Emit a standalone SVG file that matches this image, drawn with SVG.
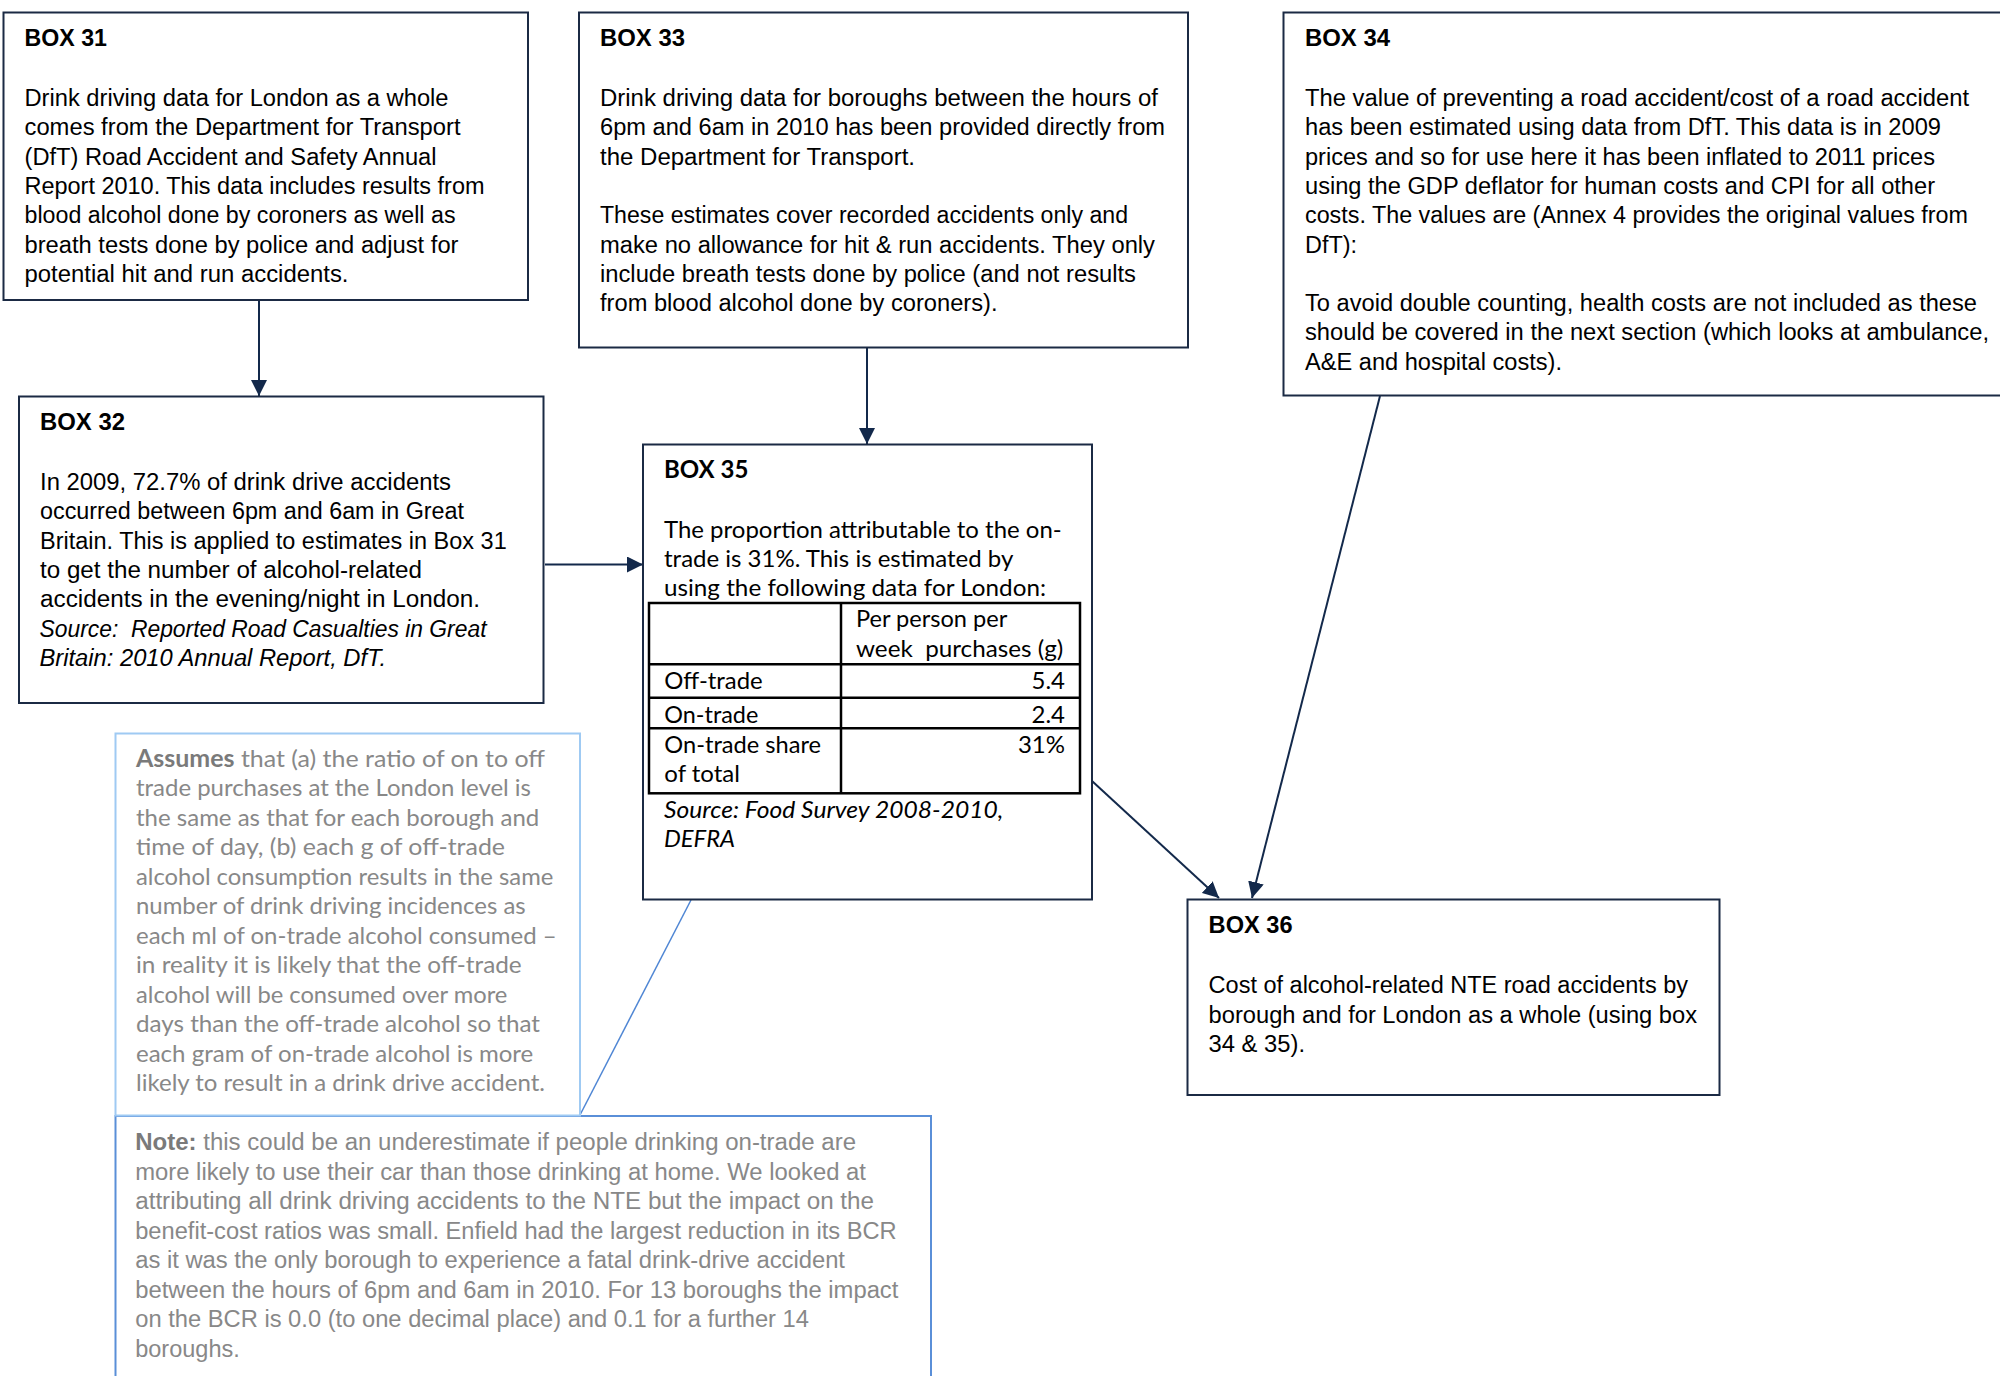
<svg xmlns="http://www.w3.org/2000/svg" width="2000" height="1376" viewBox="0 0 2000 1376">
  <defs>
    <marker id="arrow" markerUnits="userSpaceOnUse" markerWidth="16" markerHeight="16" viewBox="0 0 16 16" refX="16" refY="8" orient="auto">
      <path d="M0,0 L16,8 L0,16 Z" fill="#13294b"/>
    </marker>
    <style>
      .box { fill: #ffffff; stroke: #1b2a44; stroke-width: 2; }
      .assume { fill: #ffffff; stroke: #9fcaf3; stroke-width: 2; }
      .note { fill: #ffffff; stroke: #5a8fd8; stroke-width: 2; }
      .cell { fill: none; stroke: #000000; stroke-width: 2.5; }
      .link { stroke: #13294b; stroke-width: 2; fill: none; }
      .callout { stroke: #4f86d4; stroke-width: 1.5; fill: none; }
      .t { font-family: "Liberation Sans", Arial, sans-serif; font-size: 23px; fill: #000000; }
      .u { font-family: Lato, "Liberation Sans", Arial, sans-serif; font-size: 24px; fill: #000000; }
      .h { font-weight: bold; }
      .i { font-style: italic; }
      .g { fill: #888888; }
      .gb { font-weight: bold; fill: #7a7a7a; }
    </style>
  </defs>

  <rect width="2000" height="1376" fill="#ffffff"/>

  <!-- connectors -->
  <g id="connectors">
    <line class="link" x1="259" y1="300" x2="259" y2="396" marker-end="url(#arrow)"/>
    <line class="link" x1="867" y1="348" x2="867" y2="444" marker-end="url(#arrow)"/>
    <line class="link" x1="545" y1="564.5" x2="643" y2="564.5" marker-end="url(#arrow)"/>
    <line class="link" x1="1092" y1="781" x2="1219" y2="898" marker-end="url(#arrow)"/>
    <line class="link" x1="1380" y1="396" x2="1252" y2="898" marker-end="url(#arrow)"/>
    <line class="callout" x1="691" y1="900" x2="580" y2="1115"/>
  </g>

  <!-- Box 31 -->
  <g id="box31">
    <rect class="box" x="3.5" y="12.5" width="524.5" height="287.5"/>
    <text class="t h" x="24.5" y="45.7" textLength="82.5" lengthAdjust="spacingAndGlyphs">BOX 31</text>
    <text class="t" x="24.5" y="106" textLength="424" lengthAdjust="spacingAndGlyphs">Drink driving data for London as a whole</text>
    <text class="t" x="24.5" y="135.3" textLength="436" lengthAdjust="spacingAndGlyphs">comes from the Department for Transport</text>
    <text class="t" x="24.5" y="164.6" textLength="412" lengthAdjust="spacingAndGlyphs">(DfT) Road Accident and Safety Annual</text>
    <text class="t" x="24.5" y="193.9" textLength="460" lengthAdjust="spacingAndGlyphs">Report 2010. This data includes results from</text>
    <text class="t" x="24.5" y="223.2" textLength="431" lengthAdjust="spacingAndGlyphs">blood alcohol done by coroners as well as</text>
    <text class="t" x="24.5" y="252.5" textLength="434" lengthAdjust="spacingAndGlyphs">breath tests done by police and adjust for</text>
    <text class="t" x="24.5" y="281.8" textLength="324" lengthAdjust="spacingAndGlyphs">potential hit and run accidents.</text>
  </g>

  <!-- Box 33 -->
  <g id="box33">
    <rect class="box" x="579" y="12.5" width="609" height="335"/>
    <text class="t h" x="600" y="45.7" textLength="85" lengthAdjust="spacingAndGlyphs">BOX 33</text>
    <text class="t" x="600" y="106" textLength="558" lengthAdjust="spacingAndGlyphs">Drink driving data for boroughs between the hours of</text>
    <text class="t" x="600" y="135.3" textLength="565" lengthAdjust="spacingAndGlyphs">6pm and 6am in 2010 has been provided directly from</text>
    <text class="t" x="600" y="164.6" textLength="315" lengthAdjust="spacingAndGlyphs">the Department for Transport.</text>
    <text class="t" x="600" y="223.2" textLength="528" lengthAdjust="spacingAndGlyphs">These estimates cover recorded accidents only and</text>
    <text class="t" x="600" y="252.5" textLength="555" lengthAdjust="spacingAndGlyphs">make no allowance for hit &amp; run accidents. They only</text>
    <text class="t" x="600" y="281.8" textLength="536" lengthAdjust="spacingAndGlyphs">include breath tests done by police (and not results</text>
    <text class="t" x="600" y="311.1" textLength="397.5" lengthAdjust="spacingAndGlyphs">from blood alcohol done by coroners).</text>
  </g>

  <!-- Box 34 (runs past the right edge) -->
  <g id="box34">
    <rect class="box" x="1283.5" y="12.5" width="740" height="383"/>
    <text class="t h" x="1305" y="45.7" textLength="85" lengthAdjust="spacingAndGlyphs">BOX 34</text>
    <text class="t" x="1305" y="106" textLength="664" lengthAdjust="spacingAndGlyphs">The value of preventing a road accident/cost of a road accident</text>
    <text class="t" x="1305" y="135.3" textLength="636" lengthAdjust="spacingAndGlyphs">has been estimated using data from DfT. This data is in 2009</text>
    <text class="t" x="1305" y="164.6" textLength="630" lengthAdjust="spacingAndGlyphs">prices and so for use here it has been inflated to 2011 prices</text>
    <text class="t" x="1305" y="193.9" textLength="630" lengthAdjust="spacingAndGlyphs">using the GDP deflator for human costs and CPI for all other</text>
    <text class="t" x="1305" y="223.2" textLength="663" lengthAdjust="spacingAndGlyphs">costs. The values are (Annex 4 provides the original values from</text>
    <text class="t" x="1305" y="252.5" textLength="52" lengthAdjust="spacingAndGlyphs">DfT):</text>
    <text class="t" x="1305" y="311.1" textLength="672" lengthAdjust="spacingAndGlyphs">To avoid double counting, health costs are not included as these</text>
    <text class="t" x="1305" y="340.4" textLength="684" lengthAdjust="spacingAndGlyphs">should be covered in the next section (which looks at ambulance,</text>
    <text class="t" x="1305" y="369.7" textLength="257" lengthAdjust="spacingAndGlyphs">A&amp;E and hospital costs).</text>
  </g>

  <!-- Box 32 -->
  <g id="box32">
    <rect class="box" x="19" y="396.5" width="524.5" height="306.5"/>
    <text class="t h" x="40" y="430" textLength="85" lengthAdjust="spacingAndGlyphs">BOX 32</text>
    <text class="t" x="40" y="490" textLength="411" lengthAdjust="spacingAndGlyphs">In 2009, 72.7% of drink drive accidents</text>
    <text class="t" x="40" y="519.3" textLength="424" lengthAdjust="spacingAndGlyphs">occurred between 6pm and 6am in Great</text>
    <text class="t" x="40" y="548.6" textLength="466.7" lengthAdjust="spacingAndGlyphs">Britain. This is applied to estimates in Box 31</text>
    <text class="t" x="40" y="577.9" textLength="382" lengthAdjust="spacingAndGlyphs">to get the number of alcohol-related</text>
    <text class="t" x="40" y="607.2" textLength="440" lengthAdjust="spacingAndGlyphs">accidents in the evening/night in London.</text>
    <text class="t i" x="39.5" y="636.5" textLength="447" lengthAdjust="spacingAndGlyphs" xml:space="preserve">Source:  Reported Road Casualties in Great</text>
    <text class="t i" x="39.5" y="665.8" textLength="346.5" lengthAdjust="spacingAndGlyphs">Britain: 2010 Annual Report, DfT.</text>
  </g>

  <!-- Box 35 with its data table -->
  <g id="box35">
    <rect class="box" x="643" y="444.5" width="449" height="455"/>
    <text class="u h" x="664" y="477.7" textLength="84.3" lengthAdjust="spacingAndGlyphs">BOX 35</text>
    <text class="u" x="664" y="538.3" textLength="397.7" lengthAdjust="spacingAndGlyphs">The proportion attributable to the on-</text>
    <text class="u" x="664" y="566.7" textLength="349.3" lengthAdjust="spacingAndGlyphs">trade is 31%. This is estimated by</text>
    <text class="u" x="664" y="596" textLength="382" lengthAdjust="spacingAndGlyphs">using the following data for London:</text>
    <g id="table35">
      <rect class="cell" x="649" y="603" width="431" height="190.3"/>
      <line class="cell" x1="841" y1="603" x2="841" y2="793.3"/>
      <line class="cell" x1="649" y1="664.3" x2="1080" y2="664.3"/>
      <line class="cell" x1="649" y1="697.7" x2="1080" y2="697.7"/>
      <line class="cell" x1="649" y1="728.3" x2="1080" y2="728.3"/>
      <text class="u" x="856" y="626.7" textLength="151.3" lengthAdjust="spacingAndGlyphs">Per person per</text>
      <text class="u" x="856" y="656.7" textLength="207.3" lengthAdjust="spacingAndGlyphs" xml:space="preserve">week  purchases (g)</text>
      <text class="u" x="664.3" y="689.3" textLength="98.4" lengthAdjust="spacingAndGlyphs">Off-trade</text>
      <text class="u" x="1065" y="689.3" text-anchor="end">5.4</text>
      <text class="u" x="664.3" y="722.7" textLength="94" lengthAdjust="spacingAndGlyphs">On-trade</text>
      <text class="u" x="1065" y="722.7" text-anchor="end">2.4</text>
      <text class="u" x="664.3" y="752.7" textLength="156.7" lengthAdjust="spacingAndGlyphs">On-trade share</text>
      <text class="u" x="664.3" y="782" textLength="75.7" lengthAdjust="spacingAndGlyphs">of total</text>
      <text class="u" x="1065" y="752.7" text-anchor="end">31%</text>
    </g>
    <text class="u i" x="664" y="817.7" textLength="339.3" lengthAdjust="spacingAndGlyphs">Source: Food Survey 2008-2010,</text>
    <text class="u i" x="664" y="847.3" textLength="71" lengthAdjust="spacingAndGlyphs">DEFRA</text>
  </g>

  <!-- Box 36 -->
  <g id="box36">
    <rect class="box" x="1187.5" y="899.5" width="532" height="195.5"/>
    <text class="t h" x="1208.6" y="933.3" textLength="84" lengthAdjust="spacingAndGlyphs">BOX 36</text>
    <text class="t" x="1208.6" y="993.3" textLength="479.4" lengthAdjust="spacingAndGlyphs">Cost of alcohol-related NTE road accidents by</text>
    <text class="t" x="1208.6" y="1022.6" textLength="488.4" lengthAdjust="spacingAndGlyphs">borough and for London as a whole (using box</text>
    <text class="t" x="1208.6" y="1051.9" textLength="96.4" lengthAdjust="spacingAndGlyphs">34 &amp; 35).</text>
  </g>

  <!-- Note box (runs past the bottom edge) -->
  <g id="note">
    <rect class="note" x="115.5" y="1116" width="815.5" height="300"/>
    <text class="t g" x="135.2" y="1150" textLength="720.8" lengthAdjust="spacingAndGlyphs"><tspan class="gb">Note:</tspan> this could be an underestimate if people drinking on-trade are</text>
    <text class="t g" x="135.2" y="1179.5" textLength="730.7" lengthAdjust="spacingAndGlyphs">more likely to use their car than those drinking at home. We looked at</text>
    <text class="t g" x="135.2" y="1209" textLength="738.8" lengthAdjust="spacingAndGlyphs">attributing all drink driving accidents to the NTE but the impact on the</text>
    <text class="t g" x="135.2" y="1238.5" textLength="761.5" lengthAdjust="spacingAndGlyphs">benefit-cost ratios was small. Enfield had the largest reduction in its BCR</text>
    <text class="t g" x="135.2" y="1268" textLength="709.8" lengthAdjust="spacingAndGlyphs">as it was the only borough to experience a fatal drink-drive accident</text>
    <text class="t g" x="135.2" y="1297.5" textLength="763.2" lengthAdjust="spacingAndGlyphs">between the hours of 6pm and 6am in 2010. For 13 boroughs the impact</text>
    <text class="t g" x="135.2" y="1327" textLength="673.8" lengthAdjust="spacingAndGlyphs">on the BCR is 0.0 (to one decimal place) and 0.1 for a further 14</text>
    <text class="t g" x="135.2" y="1356.5" textLength="104.6" lengthAdjust="spacingAndGlyphs">boroughs.</text>
  </g>

  <!-- Assumptions box -->
  <g id="assumes">
    <rect class="assume" x="115.5" y="733.5" width="464.5" height="382"/>
    <text class="u g" x="136" y="766.7" textLength="409" lengthAdjust="spacingAndGlyphs"><tspan class="gb">Assumes</tspan> that (a) the ratio of on to off</text>
    <text class="u g" x="136" y="796.2" textLength="395" lengthAdjust="spacingAndGlyphs">trade purchases at the London level is</text>
    <text class="u g" x="136" y="825.7" textLength="403.3" lengthAdjust="spacingAndGlyphs">the same as that for each borough and</text>
    <text class="u g" x="136" y="855.2" textLength="369" lengthAdjust="spacingAndGlyphs">time of day, (b) each g of off-trade</text>
    <text class="u g" x="136" y="884.7" textLength="417.3" lengthAdjust="spacingAndGlyphs">alcohol consumption results in the same</text>
    <text class="u g" x="136" y="914.2" textLength="389.7" lengthAdjust="spacingAndGlyphs">number of drink driving incidences as</text>
    <text class="u g" x="136" y="943.7" textLength="420.7" lengthAdjust="spacingAndGlyphs">each ml of on-trade alcohol consumed –</text>
    <text class="u g" x="136" y="973.2" textLength="385.7" lengthAdjust="spacingAndGlyphs">in reality it is likely that the off-trade</text>
    <text class="u g" x="136" y="1002.7" textLength="371.3" lengthAdjust="spacingAndGlyphs">alcohol will be consumed over more</text>
    <text class="u g" x="136" y="1032.2" textLength="404" lengthAdjust="spacingAndGlyphs">days than the off-trade alcohol so that</text>
    <text class="u g" x="136" y="1061.7" textLength="397.3" lengthAdjust="spacingAndGlyphs">each gram of on-trade alcohol is more</text>
    <text class="u g" x="136" y="1091.2" textLength="409" lengthAdjust="spacingAndGlyphs">likely to result in a drink drive accident.</text>
  </g>
</svg>
